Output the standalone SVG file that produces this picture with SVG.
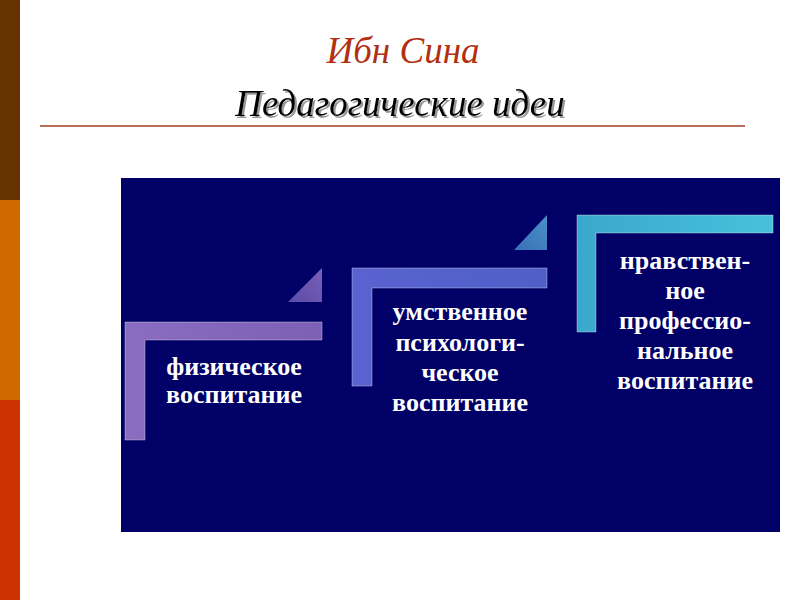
<svg xmlns="http://www.w3.org/2000/svg" width="800" height="600" viewBox="0 0 800 600">
<defs>
<linearGradient id="g1" x1="0" y1="0" x2="1" y2="0"><stop offset="0" stop-color="#8a6cc0"/><stop offset="1" stop-color="#7d5fb4"/></linearGradient>
<linearGradient id="g2" x1="0" y1="0" x2="1" y2="0"><stop offset="0" stop-color="#5a62d0"/><stop offset="1" stop-color="#4e60c8"/></linearGradient>
<linearGradient id="g3" x1="0" y1="0" x2="1" y2="0"><stop offset="0" stop-color="#3aa8cc"/><stop offset="1" stop-color="#48c0dc"/></linearGradient>
<linearGradient id="t1" x1="0" y1="1" x2="1" y2="0"><stop offset="0" stop-color="#5a4aa8"/><stop offset="1" stop-color="#7a60b8"/></linearGradient>
<linearGradient id="t2" x1="0" y1="1" x2="1" y2="0"><stop offset="0" stop-color="#3a70b8"/><stop offset="1" stop-color="#4a90c8"/></linearGradient>
<filter id="sh" x="-5%" y="-20%" width="110%" height="140%"><feDropShadow dx="2" dy="2" stdDeviation="0.5" flood-color="#999999"/></filter>
</defs>
<style>
.lbl{font-family:"Liberation Serif",serif;font-weight:bold;font-size:26px;fill:#ffffff;text-anchor:middle}
.br{stroke:#ffffff;stroke-opacity:0.35;stroke-width:1}
.ttl{font-family:"Liberation Serif",serif;font-style:italic;font-size:37px;text-anchor:middle}
</style>
<rect width="800" height="600" fill="#ffffff"/>
<rect x="0" y="0" width="20" height="200" fill="#663300"/>
<rect x="0" y="200" width="20" height="200" fill="#d06a00"/>
<rect x="0" y="400" width="20" height="200" fill="#cc3300"/>
<text class="ttl" x="403" y="63" fill="#b03010">Ибн Сина</text>
<text class="ttl" x="400" y="116" fill="#000000" filter="url(#sh)">Педагогические идеи</text>
<line x1="40" y1="126" x2="745" y2="126" stroke="#a04020" stroke-width="1.5"/>
<rect x="121" y="178" width="659" height="354" fill="#000066"/>
<g id="node1">
<path class="br" d="M125,322 H322 V340 H145 V440 H125 Z" fill="url(#g1)"/>
<path d="M322,268 V302 H288 Z" fill="url(#t1)"/>
<text class="lbl" x="234" y="375">физическое</text>
<text class="lbl" x="234" y="403">воспитание</text>
</g>
<g id="node2">
<path class="br" d="M352,268 H547 V288 H372 V386 H352 Z" fill="url(#g2)"/>
<path d="M547,215 V250 H514 Z" fill="url(#t2)"/>
<text class="lbl" x="460" y="320">умственное</text>
<text class="lbl" x="460" y="351">психологи-</text>
<text class="lbl" x="460" y="381">ческое</text>
<text class="lbl" x="460" y="411">воспитание</text>
</g>
<g id="node3">
<path class="br" d="M577,215 H773 V233 H596 V332 H577 Z" fill="url(#g3)"/>
<text class="lbl" x="685" y="269">нравствен-</text>
<text class="lbl" x="685" y="299">ное</text>
<text class="lbl" x="685" y="329">профессио-</text>
<text class="lbl" x="685" y="359">нальное</text>
<text class="lbl" x="685" y="389">воспитание</text>
</g>
<g id="connectors"></g>
</svg>
